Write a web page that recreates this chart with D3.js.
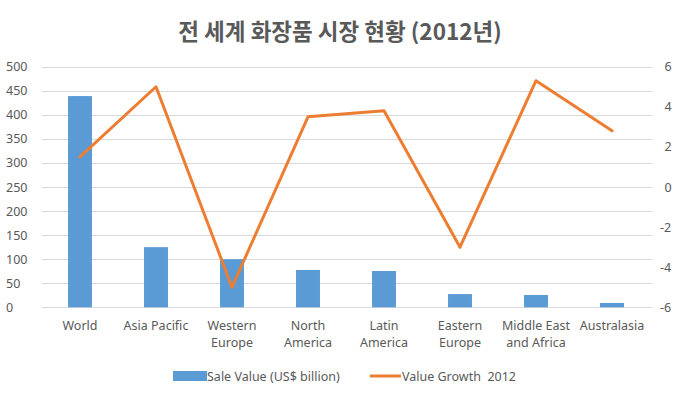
<!DOCTYPE html>
<html><head><meta charset="utf-8">
<script src="https://cdn.jsdelivr.net/npm/d3@7"></script>
<style>body{margin:0;background:#fff}svg{display:block}</style>
</head><body>
<svg id="c" width="681" height="396"></svg>
<script>
const categories = [["World"],["Asia Pacific"],["Western","Europe"],["North","America"],["Latin","America"],["Eastern","Europe"],["Middle East","and Africa"],["Australasia"]];
const saleValues = [439, 125, 100, 77.5, 75.5, 27.5, 25.5, 9];
const growthValues = [1.5, 5.0, -5.0, 3.5, 3.8, -3.0, 5.3, 2.8];
const leftTicks = [0,50,100,150,200,250,300,350,400,450,500];
const rightTicks = [-6,-4,-2,0,2,4,6];
const title = "전 세계 화장품 시장 현황 (2012년)";
const seriesNames = ["Sale Value (US$ billion)", "Value Growth  2012"];

const svg = d3.select("#c");
const m = {l:42, r:650, t:66.7, b:307.3};
const font = "'Noto Sans', 'Open Sans', sans-serif";
const gray = "#595959";

const x = d3.scaleBand().domain(d3.range(categories.length)).range([m.l, m.r]).paddingInner(0.685).paddingOuter(0.3425);
const yL = d3.scaleLinear().domain([0,500]).range([m.b, m.t]);
const yR = d3.scaleLinear().domain([-6,6]).range([m.b, m.t]);

// gridlines
svg.append("g").selectAll("line").data(leftTicks).join("line")
  .attr("x1", m.l).attr("x2", m.r+2)
  .attr("y1", d=>Math.round(yL(d))+0.5).attr("y2", d=>Math.round(yL(d))+0.5)
  .attr("stroke", "#d9d9d9").attr("stroke-width", 1);

// left axis
const axL = svg.append("g").attr("transform", `translate(${m.l},0)`)
  .call(d3.axisLeft(yL).tickValues(leftTicks).tickFormat(d=>String(d)).tickSize(0).tickPadding(12));
axL.select(".domain").remove();
axL.selectAll("text").attr("fill", gray).style("font-family", font).style("font-size", "12.5px").attr("text-anchor","start").attr("x", -36);

// right axis
const axR = svg.append("g").attr("transform", `translate(${m.r},0)`)
  .call(d3.axisRight(yR).tickValues(rightTicks).tickFormat(d=>String(d)).tickSize(0).tickPadding(10));
axR.select(".domain").remove();
axR.selectAll("text").attr("fill", gray).style("font-family", font).style("font-size", "12.5px")
  .attr("x", d => d < 0 ? 10 : 14.5);

// bars
svg.append("g").selectAll("rect").data(saleValues).join("rect")
  .attr("x", (d,i)=>x(i)).attr("width", x.bandwidth())
  .attr("y", d=>yL(d)).attr("height", d=>yL(0)-yL(d))
  .attr("fill", "#5b9bd5");

// line
const line = d3.line().x((d,i)=>x(i)+x.bandwidth()/2).y(d=>yR(d));
svg.append("path").datum(growthValues).attr("d", line)
  .attr("fill","none").attr("stroke","#ed7d31").attr("stroke-width",3).attr("stroke-linejoin","round").attr("stroke-linecap","round");

// category labels
const cg = svg.append("g");
categories.forEach((lines,i)=>{
  const t = cg.append("text").attr("x", x(i)+x.bandwidth()/2).attr("y", 330)
    .attr("text-anchor","middle").attr("fill", gray).style("font-family", font).style("font-size","12.5px");
  lines.forEach((s,j)=>t.append("tspan").attr("x", x(i)+x.bandwidth()/2).attr("dy", j===0?0:17).text(s));
});

// title
svg.append("text").attr("x", 340).attr("y", 40).attr("text-anchor","middle")
  .attr("fill", gray).style("font-family","'Noto Sans CJK KR', sans-serif").style("font-size","22.5px").style("font-weight","bold")
  .text(title);

// legend
const lg = svg.append("g");
lg.append("rect").attr("x",173).attr("y",371).attr("width",34).attr("height",10).attr("fill","#5b9bd5");
lg.append("text").attr("x",207).attr("y",380.5).attr("fill",gray).style("font-family",font).style("font-size","12.5px").text(seriesNames[0]);
lg.append("line").attr("x1",370).attr("x2",401).attr("y1",376).attr("y2",376).attr("stroke","#ed7d31").attr("stroke-width",3);
lg.append("text").attr("x",402).attr("y",380.5).attr("fill",gray).style("font-family",font).style("font-size","12.5px").style("white-space","pre").attr("xml:space","preserve").text(seriesNames[1]);
</script>
</body></html>
